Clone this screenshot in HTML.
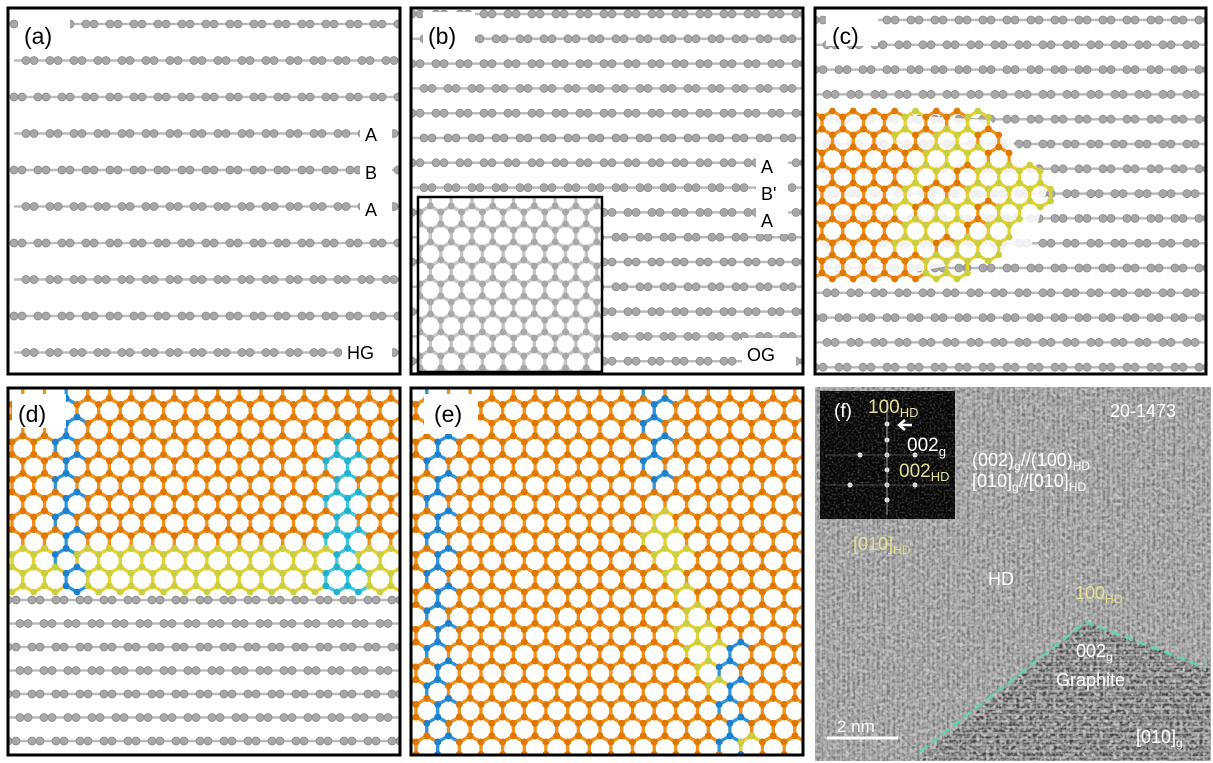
<!DOCTYPE html>
<html><head><meta charset="utf-8">
<style>
html,body{margin:0;padding:0;background:#fff;}
svg{display:block;font-family:"Liberation Sans",sans-serif;}
</style></head>
<body>
<svg id="s" width="1213" height="763" viewBox="0 0 1213 763" xmlns="http://www.w3.org/2000/svg">
<defs>
<clipPath id="ca"><rect x="8" y="8" width="392" height="366"/></clipPath>
<clipPath id="cb"><rect x="411" y="8" width="392" height="366"/></clipPath>
<clipPath id="cc"><rect x="815" y="8" width="391" height="366"/></clipPath>
<clipPath id="cd"><rect x="8" y="388" width="392" height="367"/></clipPath>
<clipPath id="ce"><rect x="411" y="388" width="392" height="367"/></clipPath>
<clipPath id="cbi"><rect x="418" y="197" width="184" height="175"/></clipPath>
<filter id="noise" x="0" y="0" width="100%" height="100%">
<feTurbulence type="fractalNoise" baseFrequency="0.3" numOctaves="2" seed="3"/>
<feColorMatrix type="matrix" values="0 0 0 0 0.5  0 0 0 0 0.5  0 0 0 0 0.5  1.6 1.6 0 0 -1.1"/>
</filter>
<filter id="noiseW" x="0" y="0" width="100%" height="100%">
<feTurbulence type="fractalNoise" baseFrequency="0.35" numOctaves="1" seed="11"/>
<feColorMatrix type="matrix" values="0 0 0 0 1  0 0 0 0 1  0 0 0 0 1  1.8 0 0 0 -0.9"/>
</filter>
<filter id="noise2" x="0" y="0" width="100%" height="100%">
<feTurbulence type="fractalNoise" baseFrequency="0.5" numOctaves="2" seed="8"/>
<feColorMatrix type="matrix" values="0 0 0 0 1  0 0 0 0 1  0 0 0 0 1  1.4 0 0 0 -0.62"/>
</filter>
<pattern id="stripes" width="5" height="5" patternUnits="userSpaceOnUse">
<rect width="5" height="5" fill="#767676"/><rect width="2" height="5" fill="#959595"/>
</pattern>
<pattern id="hstripes" width="6" height="6" patternUnits="userSpaceOnUse">
<rect width="6" height="6" fill="#404040"/><rect width="6" height="2" fill="#777"/>
</pattern>
<clipPath id="cg"><polygon points="918,760 1086,622 1210,668 1210,760"/></clipPath>
</defs>
<g id="content"></g>
</svg>
<script>
var out=[];
function grayRows(x0,x1,ys,clip,off){
  var s='<g clip-path="url(#'+clip+')">';
  ys.forEach(function(y,k){
    s+='<line x1="'+x0+'" y1="'+y+'" x2="'+x1+'" y2="'+y+'" stroke="#bbb" stroke-width="2.5"/>';
    var o=(off?(k%2)*12:0);
    for(var x=x0+o;x<x1;x+=24){
      s+='<circle cx="'+x+'" cy="'+y+'" r="4" fill="#a8a8a8" stroke="#888" stroke-width="0.8"/>';
      s+='<circle cx="'+(x+8)+'" cy="'+y+'" r="4" fill="#a8a8a8" stroke="#888" stroke-width="0.8"/>';
    }
  });
  return s+'</g>';
}
function honey(x0,y0,x1,y1,R,clip,colFn){
  var dx=R*Math.sqrt(3),dy=1.5*R,s='<g clip-path="url(#'+clip+')">',atoms='';
  for(var j=0;y0+j*dy<y1+R;j++){
    for(var i=-1;x0+i*dx<x1+dx;i++){
      var cx=x0+i*dx+(j%2)*dx/2,cy=y0+j*dy;
      var c=colFn(cx,cy);
      if(!c)continue;
      var pts=[];
      for(var a=0;a<6;a++){var ang=Math.PI/6+a*Math.PI/3;pts.push((cx+R*Math.cos(ang)).toFixed(1)+','+(cy+R*Math.sin(ang)).toFixed(1));}
      s+='<polygon points="'+pts.join(' ')+'" fill="none" stroke="'+c[0]+'" stroke-width="3.2"/>';
      pts.forEach(function(p){var q=p.split(',');atoms+='<circle cx="'+q[0]+'" cy="'+q[1]+'" r="3.4" fill="'+c[1]+'"/>';});
    }
  }
  return s+atoms+'</g>';
}
var OR=['#f2901a','#e07800'],BL=['#2a95e0','#1a80d0'],YE=['#e8d030','#c8d040'],GR=['#c4c4c4','#a8a8a8'];
// (a)
var ya=[];for(var y=24;y<374;y+=36.5)ya.push(y);
out.push(grayRows(14,400,ya,'ca',true));
out.push('<rect x="18" y="12" width="52" height="34" fill="#fff"/><text x="24" y="44" font-size="23">(a)</text>');
out.push('<rect x="360" y="120" width="32" height="102" fill="#fff"/>');
out.push('<text x="365" y="141" font-size="18">A</text><text x="365" y="179" font-size="18">B</text><text x="365" y="216" font-size="18">A</text>');
out.push('<rect x="342" y="336" width="50" height="30" fill="#fff"/><text x="347" y="359" font-size="18">HG</text>');
out.push('<rect x="8" y="8" width="392" height="366" fill="none" stroke="#000" stroke-width="3"/>');
// (b)
var yb=[];for(var y=14;y<374;y+=24.8)yb.push(y);
out.push(grayRows(412,803,yb,'cb',true));
out.push('<rect x="418" y="197" width="184" height="175" fill="#fff"/>');
out.push(honey(420,200,602,372,12,'cbi',function(){return GR;}));
out.push('<rect x="418" y="197" width="184" height="175" fill="none" stroke="#000" stroke-width="2.5"/>');
out.push('<rect x="423" y="12" width="52" height="34" fill="#fff"/><text x="428" y="44" font-size="23">(b)</text>');
out.push('<rect x="756" y="152" width="32" height="82" fill="#fff"/>');
out.push('<text x="761" y="173" font-size="18">A</text><text x="761" y="200" font-size="18">B\'</text><text x="761" y="227" font-size="18">A</text>');
out.push('<rect x="742" y="338" width="54" height="28" fill="#fff"/><text x="747" y="361" font-size="18">OG</text>');
out.push('<rect x="411" y="8" width="392" height="366" fill="none" stroke="#000" stroke-width="3"/>');
// (c)
var yc=[];for(var y=20;y<374;y+=24.8)yc.push(y);
out.push(grayRows(815,1206,yc,'cc',true));
out.push('<polygon points="816,110 990,120 1050,180 1030,250 900,275 816,272" fill="#fff" opacity="0.85"/>');
out.push(honey(822,105,1060,272,12,'cc',function(x,y){
  var edge=1045-Math.abs(y-190)*0.9;
  if(x>edge)return null;
  if(y<108||y>272)return null;
  if(x<895)return OR; if(x<1000&&(Math.floor(x/24)+Math.floor(y/20))%3==0)return OR; return YE;}));
out.push('<rect x="826" y="12" width="52" height="34" fill="#fff"/><text x="832" y="44" font-size="23">(c)</text>');
out.push('<rect x="815" y="8" width="391" height="366" fill="none" stroke="#000" stroke-width="3"/>');
// (d)
out.push(honey(12,392,400,578,12.5,'cd',function(x,y){
  if(Math.abs(x-72)<10)return BL;
  if(Math.abs(x-345)<14&&y>430)return ['#40c8e0','#20b0d0'];
  if(y>550)return YE; return OR;}));
var yd=[];for(var y=600;y<755;y+=23.5)yd.push(y);
out.push(grayRows(8,400,yd,'cd',true));
out.push('<rect x="12" y="394" width="54" height="34" fill="#fff"/><text x="18" y="422" font-size="23">(d)</text>');
out.push('<rect x="8" y="388" width="392" height="367" fill="none" stroke="#000" stroke-width="3"/>');
// (e)
out.push(honey(416,392,803,755,12.5,'ce',function(x,y){
  if(Math.abs(x-440)<10)return BL;
  if(Math.abs(x-655)<10&&y<500)return BL;
  if(Math.abs(x-738)<10&&y>640)return BL;
  var lx=660+(y-520)*0.35;
  if(y>510&&Math.abs(x-lx)<14)return YE;
  return OR;}));
out.push('<rect x="424" y="394" width="54" height="40" fill="#fff"/><text x="434" y="422" font-size="23">(e)</text>');
out.push('<rect x="411" y="388" width="392" height="367" fill="none" stroke="#000" stroke-width="3"/>');
// (f)
out.push('<rect x="815" y="387" width="396" height="374" fill="url(#stripes)"/>');
out.push('<g clip-path="url(#cg)"><rect x="815" y="600" width="396" height="161" fill="url(#hstripes)"/></g>');
out.push('<rect x="815" y="387" width="396" height="374" filter="url(#noise)"/>');
out.push('<rect x="815" y="387" width="396" height="374" filter="url(#noiseW)" opacity="0.7"/>');
out.push('<rect x="820" y="391" width="135" height="128" fill="#050505"/>');
out.push('<rect x="820" y="391" width="135" height="128" filter="url(#noise2)" opacity="0.5"/>');
var sp='';
[[887,424],[887,455],[887,485],[887,500],[860,455],[850,485],[915,455],[915,485],[887,440],[887,470]].forEach(function(p){sp+='<circle cx="'+p[0]+'" cy="'+p[1]+'" r="2.5" fill="#eee"/>';});
out.push(sp+'<line x1="887" y1="400" x2="887" y2="515" stroke="#aaa" stroke-width="1.5" opacity="0.6"/>');
out.push('<line x1="825" y1="455" x2="950" y2="455" stroke="#888" stroke-width="1" opacity="0.5"/><line x1="825" y1="485" x2="950" y2="485" stroke="#888" stroke-width="1" opacity="0.5"/>');
out.push('<text x="834" y="417" font-size="19" fill="#fff">(f)</text>');
out.push('<text x="868" y="413" font-size="19" fill="#e6df95">100<tspan font-size="13" dy="4">HD</tspan></text>');
out.push('<path d="M912 425 L900 425 M905 420 L899 425 L905 430" stroke="#fff" stroke-width="2.5" fill="none"/>');
out.push('<text x="907" y="451" font-size="19" fill="#fff">002<tspan font-size="13" dy="5">g</tspan></text>');
out.push('<text x="899" y="477" font-size="19" fill="#e6df95">002<tspan font-size="13" dy="4">HD</tspan></text>');
out.push('<text x="1110" y="417" font-size="18" fill="#fff">20-1473</text>');
out.push('<text x="972" y="466" font-size="18" fill="#fff">(002)<tspan font-size="12" dy="4">g</tspan><tspan dy="-4">//(100)</tspan><tspan font-size="12" dy="4">HD</tspan></text>');
out.push('<text x="972" y="487" font-size="18" fill="#fff">[010]<tspan font-size="12" dy="4">g</tspan><tspan dy="-4">//[010]</tspan><tspan font-size="12" dy="4">HD</tspan></text>');
out.push('<text x="853" y="550" font-size="18" fill="#e6df95">[010]<tspan font-size="12" dy="4">HD</tspan></text>');
out.push('<text x="988" y="585" font-size="18" fill="#fff">HD</text>');
out.push('<text x="1075" y="599" font-size="18" fill="#e6df95">100<tspan font-size="12" dy="4">HD</tspan></text>');
out.push('<text x="1076" y="657" font-size="18" fill="#fff">002<tspan font-size="12" dy="4">g</tspan></text>');
out.push('<text x="1056" y="686" font-size="18" fill="#fff">Graphite</text>');
out.push('<text x="1136" y="743" font-size="18" fill="#fff">[010]<tspan font-size="12" dy="4">g</tspan></text>');
out.push('<polyline points="920,752 1086,622 1206,668" fill="none" stroke="#5fd6b0" stroke-width="2.5" stroke-dasharray="9,5"/>');
out.push('<line x1="827" y1="738" x2="898" y2="738" stroke="#fff" stroke-width="3"/><text x="837" y="732" font-size="17" fill="#fff">2 nm</text>');
document.getElementById('content').innerHTML=out.join('');
</script>
</body></html>
